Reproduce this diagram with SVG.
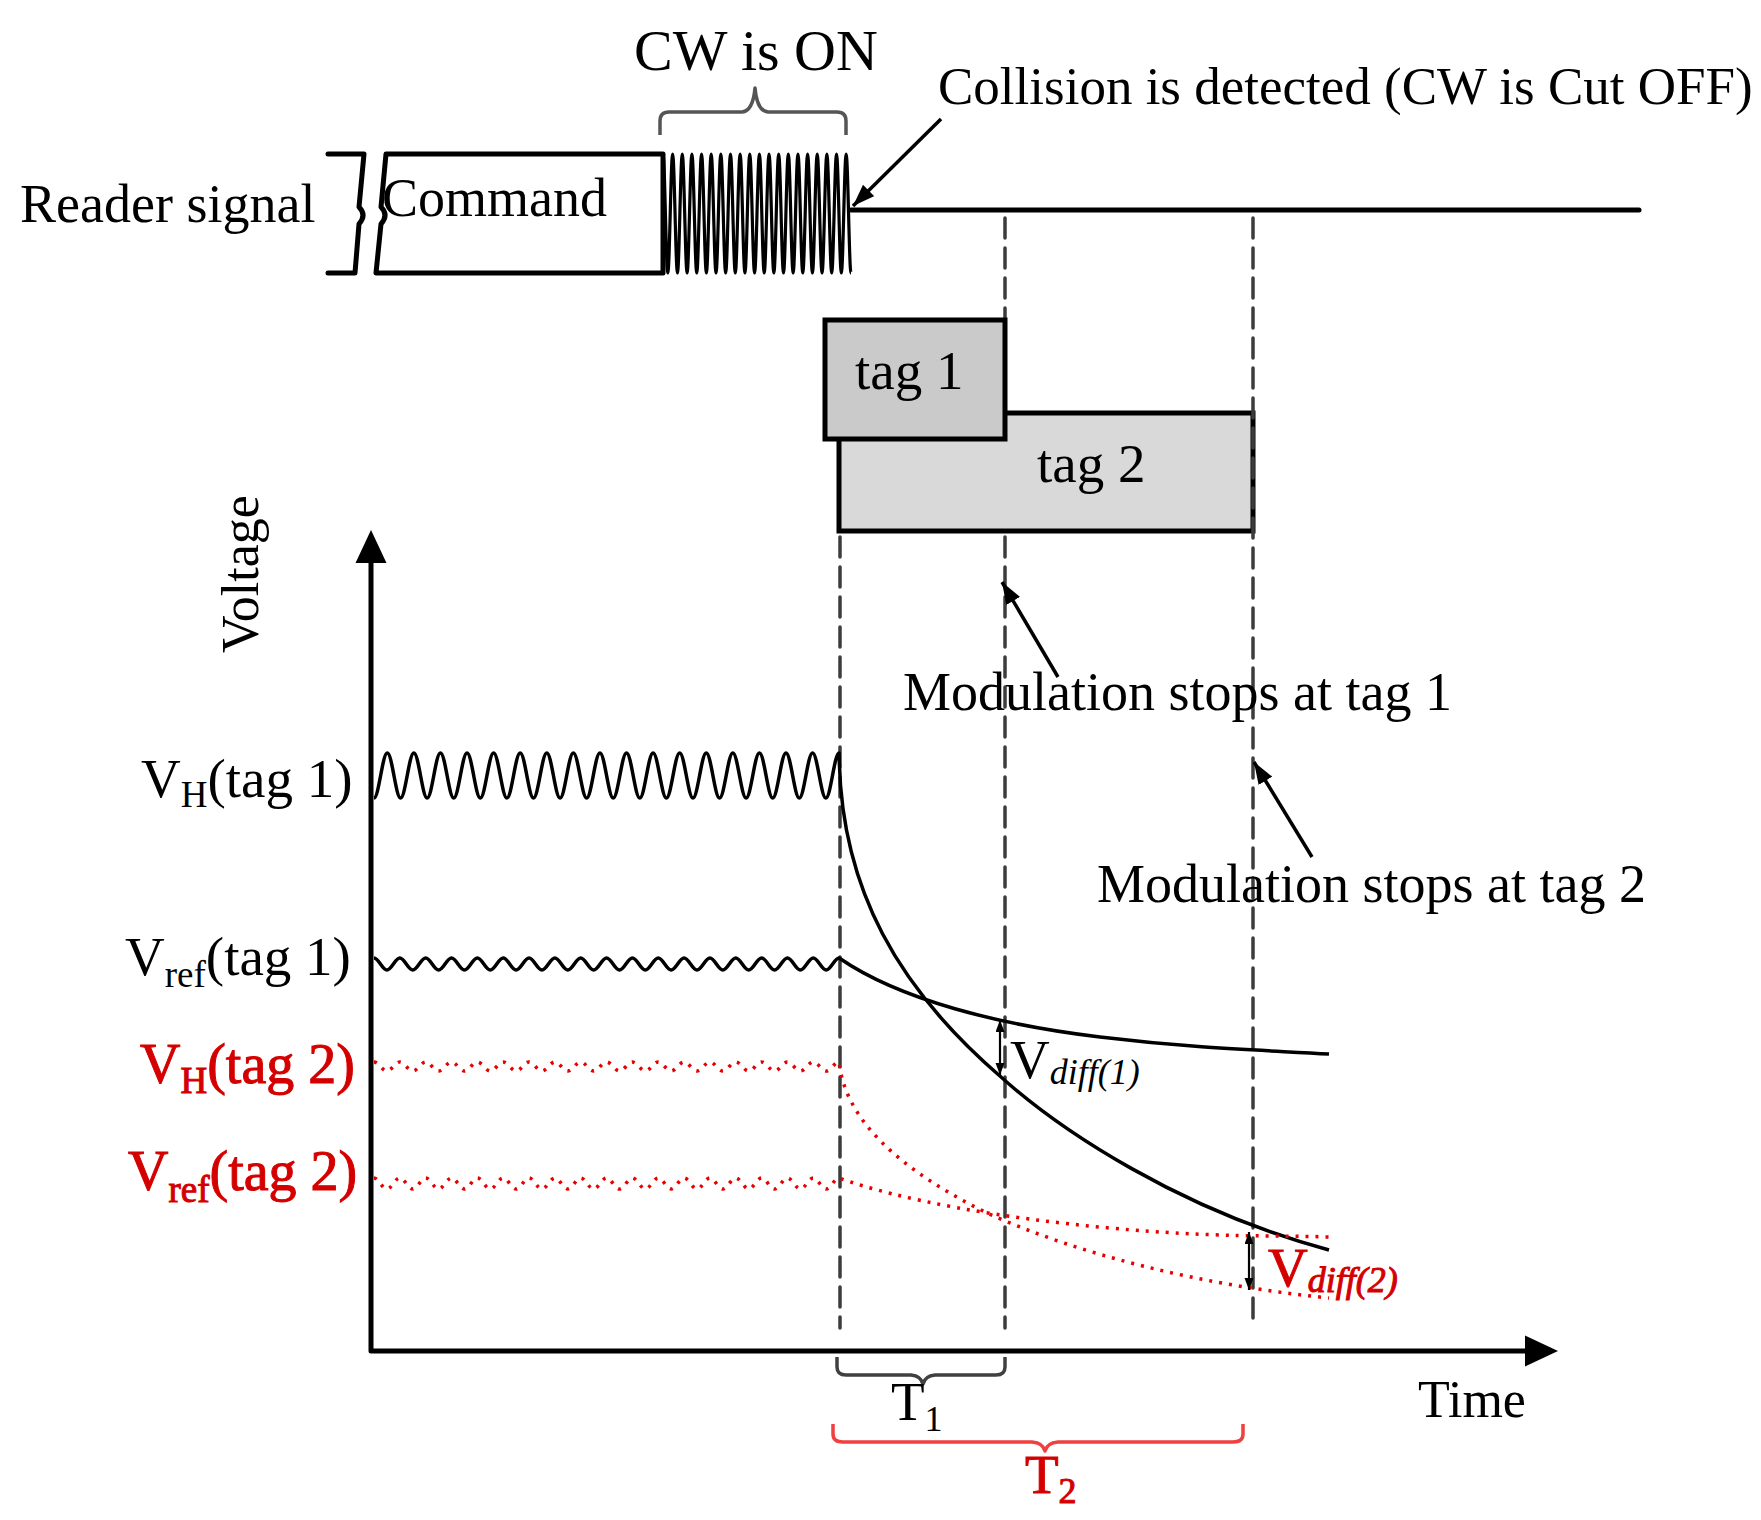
<svg xmlns="http://www.w3.org/2000/svg" width="1761" height="1520" viewBox="0 0 1761 1520">
<style>
.t{font-family:"Liberation Serif","Times New Roman",serif;fill:#000}
.r{fill:#d40000;stroke:#d40000;stroke-width:1}
.it{font-style:italic}
.dash{stroke:#3c3c3c;stroke-width:3.5;stroke-dasharray:20 10;fill:none;stroke-linecap:round}
.sig{stroke:#000;stroke-width:5;fill:none;stroke-linecap:round;stroke-linejoin:round}
.wave{stroke:#000;stroke-width:3.5;fill:none;stroke-linejoin:round}
.cw{stroke:#000;stroke-width:3.2;fill:none;stroke-linejoin:round}
.dot{stroke:#e60000;stroke-width:3.5;stroke-dasharray:3 7;fill:none}
.arr{stroke:#000;stroke-width:3.5;fill:none;marker-end:url(#ah)}
.dbl{stroke:#000;stroke-width:2.2;fill:none;marker-start:url(#sh);marker-end:url(#sh)}
.brace{fill:none;stroke-width:3.5;stroke-linejoin:round}
.box{stroke:#000;stroke-width:5}
</style>
<defs>
<marker id="ah" markerUnits="userSpaceOnUse" markerWidth="24" markerHeight="18" refX="22" refY="8" orient="auto"><path d="M0,0 L22,8 L0,16 z" fill="#000"/></marker>
<marker id="sh" markerUnits="userSpaceOnUse" markerWidth="14" markerHeight="10" refX="12" refY="4.5" orient="auto-start-reverse"><path d="M0,0 L12,4.5 L0,9 z" fill="#000"/></marker>
</defs>
<rect width="1761" height="1520" fill="#fff"/>

<g id="dashed-lines">
<line class="dash" x1="840" y1="537" x2="840" y2="1328"/>
<line class="dash" x1="1005" y1="218" x2="1005" y2="318"/>
<line class="dash" x1="1005" y1="537" x2="1005" y2="1328"/>
</g>

<g id="reader-signal">
<text class="t" x="20" y="222" font-size="54">Reader signal</text>
<path class="sig" d="M328,154 H364 L359,207 Q367,215 359,224 L355,273 H328"/>
<path class="sig" d="M386,154 L381,207 Q389,215 381,224 L376,273 H663 V154 Z"/>
<text class="t" x="382" y="216" font-size="54">Command</text>
<path class="cw" d="M663,154 c1.74,0 3.08,119 4.82,119 s3.08,-119 4.82,-119 s3.08,119 4.82,119 s3.08,-119 4.82,-119 s3.08,119 4.82,119 s3.08,-119 4.82,-119 s3.08,119 4.82,119 s3.08,-119 4.82,-119 s3.08,119 4.82,119 s3.08,-119 4.82,-119 s3.08,119 4.82,119 s3.08,-119 4.82,-119 s3.08,119 4.82,119 s3.08,-119 4.82,-119 s3.08,119 4.82,119 s3.08,-119 4.82,-119 s3.08,119 4.82,119 s3.08,-119 4.82,-119 s3.08,119 4.82,119 s3.08,-119 4.82,-119 s3.08,119 4.82,119 s3.08,-119 4.82,-119 s3.08,119 4.82,119 s3.08,-119 4.82,-119 s3.08,119 4.82,119 s3.08,-119 4.82,-119 s3.08,119 4.82,119 s3.08,-119 4.82,-119 s3.08,119 4.82,119 s3.08,-119 4.82,-119 s3.08,119 4.82,119 s3.08,-119 4.82,-119 s3.08,119 4.82,119 s3.08,-119 4.82,-119 s3.08,119 4.82,119 s3.08,-119 4.82,-119 s3.08,119 4.82,119 s3.08,-119 4.82,-119 s3.08,119 4.82,119"/>
<line class="sig" x1="851" y1="210" x2="1639" y2="210"/>
</g>

<g id="cw-on">
<path class="brace" stroke="#555" d="M660,135 V121 Q660,112 669,112 H742 Q753,111 755,88 Q757,111 768,112 H837 Q846,112 846,121 V135"/>
<text class="t" x="634" y="70" font-size="58">CW is ON</text>
</g>

<g id="collision-label">
<text class="t" x="938" y="104" font-size="53">Collision is detected (CW is Cut OFF)</text>
</g>

<g id="tag2">
<rect class="box" x="839" y="413" width="414" height="118" fill="#d9d9d9"/>
<text class="t" x="1037" y="482" font-size="55">tag 2</text>
</g>

<g id="tag1">
<rect class="box" x="825" y="320" width="180" height="119" fill="#cacaca"/>
<text class="t" x="855" y="389" font-size="55">tag 1</text>
</g>

<g id="dashed-line-tag2">
<line class="dash" x1="1253" y1="218" x2="1253" y2="1328"/>
</g>

<g id="axes">
<path class="sig" d="M371,560 V1351 H1527" stroke-linecap="butt"/>
<path d="M371,530 L386.5,563 L355.5,563 Z" fill="#000"/>
<path d="M1558,1351 L1525,1335.5 L1525,1366.5 Z" fill="#000"/>
<text class="t" transform="translate(258,653) rotate(-90)" font-size="52">Voltage</text>
<text class="t" x="1418" y="1417" font-size="52">Time</text>
</g>

<g id="vh-tag1">
<text class="t" x="141" y="797" font-size="55">V<tspan font-size="37" dy="10">H</tspan><tspan dy="-10">(tag 1)</tspan></text>
<path class="wave" d="M374,798 c4.78,0 8.5,-45 13.29,-45 s8.5,45 13.29,45 s8.5,-45 13.29,-45 s8.5,45 13.29,45 s8.5,-45 13.29,-45 s8.5,45 13.29,45 s8.5,-45 13.29,-45 s8.5,45 13.29,45 s8.5,-45 13.29,-45 s8.5,45 13.29,45 s8.5,-45 13.29,-45 s8.5,45 13.29,45 s8.5,-45 13.29,-45 s8.5,45 13.29,45 s8.5,-45 13.29,-45 s8.5,45 13.29,45 s8.5,-45 13.29,-45 s8.5,45 13.29,45 s8.5,-45 13.29,-45 s8.5,45 13.29,45 s8.5,-45 13.29,-45 s8.5,45 13.29,45 s8.5,-45 13.29,-45 s8.5,45 13.29,45 s8.5,-45 13.29,-45 s8.5,45 13.29,45 s8.5,-45 13.29,-45 s8.5,45 13.29,45 s8.5,-45 13.29,-45 s8.5,45 13.29,45 s8.5,-45 13.29,-45 s8.5,45 13.29,45 s8.5,-45 13.29,-45 s8.5,45 13.29,45 s8.5,-45 13.29,-45 C840,890 900,990 1001,1077 C1060,1130 1180,1210 1329,1250"/>
</g>

<g id="vref-tag1">
<text class="t" x="125" y="975" font-size="55">V<tspan font-size="37" dy="12">ref</tspan><tspan dy="-12">(tag 1)</tspan></text>
<path class="wave" d="M374,958 c4.65,0 8.27,12 12.92,12 s8.27,-12 12.92,-12 s8.27,12 12.92,12 s8.27,-12 12.92,-12 s8.27,12 12.92,12 s8.27,-12 12.92,-12 s8.27,12 12.92,12 s8.27,-12 12.92,-12 s8.27,12 12.92,12 s8.27,-12 12.92,-12 s8.27,12 12.92,12 s8.27,-12 12.92,-12 s8.27,12 12.92,12 s8.27,-12 12.92,-12 s8.27,12 12.92,12 s8.27,-12 12.92,-12 s8.27,12 12.92,12 s8.27,-12 12.92,-12 s8.27,12 12.92,12 s8.27,-12 12.92,-12 s8.27,12 12.92,12 s8.27,-12 12.92,-12 s8.27,12 12.92,12 s8.27,-12 12.92,-12 s8.27,12 12.92,12 s8.27,-12 12.92,-12 s8.27,12 12.92,12 s8.27,-12 12.92,-12 s8.27,12 12.92,12 s8.27,-12 12.92,-12 s8.27,12 12.92,12 s8.27,-12 12.92,-12 s8.27,12 12.92,12 s8.27,-12 12.92,-12 s8.27,12 12.92,12 s8.27,-12 12.92,-12 C900,1000 1000,1025 1100,1037 S1260,1050 1329,1054"/>
</g>

<g id="vh-tag2">
<text class="t r" x="140" y="1083" font-size="56">V<tspan font-size="37" dy="10">H</tspan><tspan dy="-10">(tag 2)</tspan></text>
<path class="dot" d="M374,1062 c4.65,0 8.27,9 12.92,9 s8.27,-9 12.92,-9 s8.27,9 12.92,9 s8.27,-9 12.92,-9 s8.27,9 12.92,9 s8.27,-9 12.92,-9 s8.27,9 12.92,9 s8.27,-9 12.92,-9 s8.27,9 12.92,9 s8.27,-9 12.92,-9 s8.27,9 12.92,9 s8.27,-9 12.92,-9 s8.27,9 12.92,9 s8.27,-9 12.92,-9 s8.27,9 12.92,9 s8.27,-9 12.92,-9 s8.27,9 12.92,9 s8.27,-9 12.92,-9 s8.27,9 12.92,9 s8.27,-9 12.92,-9 s8.27,9 12.92,9 s8.27,-9 12.92,-9 s8.27,9 12.92,9 s8.27,-9 12.92,-9 s8.27,9 12.92,9 s8.27,-9 12.92,-9 s8.27,9 12.92,9 s8.27,-9 12.92,-9 s8.27,9 12.92,9 s8.27,-9 12.92,-9 s8.27,9 12.92,9 s8.27,-9 12.92,-9 s8.27,9 12.92,9 s8.27,-9 12.92,-9 s8.27,9 12.92,9 s8.27,-9 12.92,-9 C845,1120 900,1170 987,1213 C1080,1255 1200,1285 1329,1298"/>
</g>

<g id="vref-tag2">
<text class="t r" x="128" y="1190" font-size="56">V<tspan font-size="37" dy="12">ref</tspan><tspan dy="-12">(tag 2)</tspan></text>
<path class="dot" d="M374,1178 c4.65,0 8.27,11 12.92,11 s8.27,-11 12.92,-11 s8.27,11 12.92,11 s8.27,-11 12.92,-11 s8.27,11 12.92,11 s8.27,-11 12.92,-11 s8.27,11 12.92,11 s8.27,-11 12.92,-11 s8.27,11 12.92,11 s8.27,-11 12.92,-11 s8.27,11 12.92,11 s8.27,-11 12.92,-11 s8.27,11 12.92,11 s8.27,-11 12.92,-11 s8.27,11 12.92,11 s8.27,-11 12.92,-11 s8.27,11 12.92,11 s8.27,-11 12.92,-11 s8.27,11 12.92,11 s8.27,-11 12.92,-11 s8.27,11 12.92,11 s8.27,-11 12.92,-11 s8.27,11 12.92,11 s8.27,-11 12.92,-11 s8.27,11 12.92,11 s8.27,-11 12.92,-11 s8.27,11 12.92,11 s8.27,-11 12.92,-11 s8.27,11 12.92,11 s8.27,-11 12.92,-11 s8.27,11 12.92,11 s8.27,-11 12.92,-11 s8.27,11 12.92,11 s8.27,-11 12.92,-11 s8.27,11 12.92,11 s8.27,-11 12.92,-11 C900,1200 1000,1218 1110,1228 S1270,1235 1329,1237"/>
</g>

<g id="vdiff1">
<text class="t" x="1010" y="1078" font-size="55">V<tspan class="it" font-size="36" dy="6">diff(1)</tspan></text>
</g>

<g id="vdiff2">
<text class="t r" x="1268" y="1286" font-size="55">V<tspan class="it" font-size="36" dy="6">diff(2)</tspan></text>
</g>

<g id="mod-tag1">
<text class="t" x="903" y="710" font-size="54">Modulation stops at tag 1</text>
</g>

<g id="mod-tag2">
<text class="t" x="1097" y="902" font-size="54">Modulation stops at tag 2</text>
</g>

<g id="t1">
<path class="brace" stroke="#404040" d="M837,1357 V1367 Q837,1375 846,1375 H911 Q921,1376 923,1384 Q925,1376 935,1375 H996 Q1005,1375 1005,1367 V1357"/>
<text class="t" x="891" y="1420" font-size="55">T<tspan font-size="36" dy="11">1</tspan></text>
</g>

<g id="t2">
<path class="brace" stroke="#f04040" d="M833,1424 V1434 Q833,1442 843,1442 H1032 Q1043,1443 1045,1451 Q1047,1443 1058,1442 H1233 Q1243,1442 1243,1434 V1424"/>
<text class="t r" x="1025" y="1493" font-size="55">T<tspan font-size="36" dy="10">2</tspan></text>
</g>

<g id="connectors">
<line class="arr" x1="941" y1="119" x2="853" y2="206"/>
<line class="arr" x1="1058" y1="677" x2="1002" y2="582"/>
<line class="arr" x1="1312" y1="857" x2="1254" y2="762"/>
<line class="dbl" x1="1000" y1="1020" x2="1000" y2="1075"/>
<line class="dbl" x1="1249" y1="1232" x2="1249" y2="1290"/>
</g>
</svg>
